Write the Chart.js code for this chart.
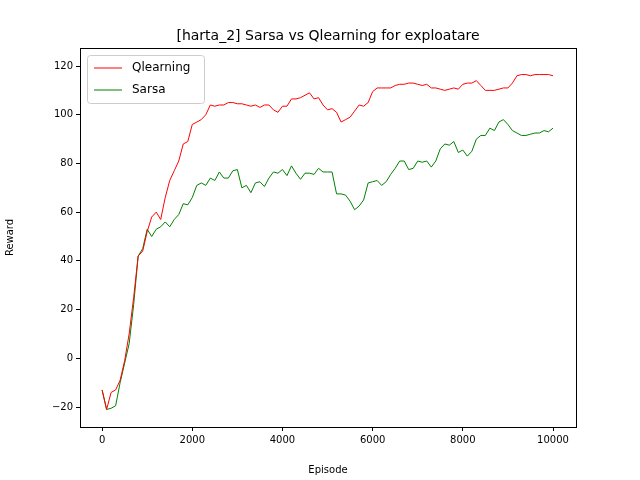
<!DOCTYPE html>
<html><head><script src="https://cdn.jsdelivr.net/npm/chart.js@4"></script>
<style>body{margin:0;background:#fff}</style></head>
<body><canvas id="c" width="640" height="480"></canvas>
<script>
const episodes = Array.from({length:101},(_,i)=>i*100);
const qlearning = [-13,-21,-14,-13,-9,-1,10,25,42,44,52,58,60,57,66,73,77,81,88,89,96,97,98,100,104,103.5,104,104,105,105,104.5,104.5,104,103.5,104,103,104,104,102,101,103.5,103.5,106.5,106.5,107,108,109,106.5,107,104,102,102.5,101,97,98,99,101.5,104,103.5,105,109.5,111,111,111,111,112,112.5,112.5,113,113,112.5,112,112.5,111,111,110.5,110,110.5,111,110.5,112.5,113,113,114,112,110,110,110,110.5,111,111,113,116,116.5,116.5,116,116.5,116.5,116.5,116.5,116];
const sarsa = [-13,-21,-20.5,-19.5,-10,-2,6,22,42,45,53,50,53,54,56,54,57,59,63.5,63,66,71,72,71,74,73,76.5,74,74,77,77.5,70,71,68,72,72.5,70.5,74,76.5,76,77.5,75,79,76,73.5,76,76,75.5,78,76.5,76.5,76.5,67.5,67.5,67,64.5,61,62.5,65,72,72.5,73,71,72.5,75.5,78,81,81,77.5,78,81,80.5,81,78.5,81,86,88,87.5,89,84.5,85.5,83,85,90,91.5,91.5,94.5,93.5,97,98,96,93.5,92.5,91.5,91.5,92,92.5,92.5,93.5,93,94.5];
const xTicks = [0,2000,4000,6000,8000,10000];
const yTicks = [-20,0,20,40,60,80,100,120];
const font = "'DejaVu Sans'";
const deco = {id:'deco', afterDraw(ch){
  const c=ch.ctx, a=ch.chartArea;
  c.save();
  c.strokeStyle='#000'; c.lineWidth=1; c.strokeRect(a.left+0.5,a.top+0.5,a.right-a.left,a.bottom-a.top);
  c.fillStyle='#000'; c.font='14px '+font; c.textAlign='center'; c.textBaseline='alphabetic';
  c.fillText('[harta_2] Sarsa vs Qlearning for exploatare',(a.left+a.right)/2,a.top-8);
  const lx=a.left+7, ly=a.top+7;
  c.fillStyle='rgba(255,255,255,0.8)'; c.strokeStyle='#ccc';
  c.beginPath(); c.roundRect(lx+0.5,ly+0.5,117,48,3); c.fill(); c.stroke();
  c.font='12px '+font; c.textAlign='left'; c.textBaseline='middle';
  ch.data.datasets.forEach((d,i)=>{
    const y=ly+13+i*22;
    c.strokeStyle=d.borderColor; c.lineWidth=1; c.beginPath(); c.moveTo(lx+7,y); c.lineTo(lx+35,y); c.stroke();
    c.fillStyle='#000'; c.fillText(d.label,lx+45,y);
  });
  c.restore();
}};
new Chart(document.getElementById('c'),{
  type:'line',
  data:{datasets:[
    {label:'Qlearning',data:episodes.map((x,i)=>({x,y:qlearning[i]})),borderColor:'#ff0000',borderWidth:1,pointRadius:0,tension:0},
    {label:'Sarsa',data:episodes.map((x,i)=>({x,y:sarsa[i]})),borderColor:'#008000',borderWidth:1,pointRadius:0,tension:0}
  ]},
  options:{responsive:false,animation:false,devicePixelRatio:1,
    layout:{padding:{top:48,right:64,left:0,bottom:0}},
    plugins:{legend:{display:false},tooltip:{enabled:false}},
    scales:{
      x:{type:'linear',min:-490,max:10510,afterFit(s){s.height=53;},
        afterBuildTicks(s){s.ticks=xTicks.map(v=>({value:v}));},
        grid:{display:true,drawOnChartArea:false,drawTicks:true,tickLength:4,color:'#000'},border:{display:false},
        ticks:{color:'#000',font:{family:font,size:10},maxRotation:0,padding:3,callback:v=>String(v)},
        title:{display:true,text:'Episode',color:'#000',font:{family:font,size:10},padding:{top:2}}},
      y:{min:-28.2,max:127.4,afterFit(s){s.width=80;},
        afterBuildTicks(s){s.ticks=yTicks.map(v=>({value:v}));},
        grid:{display:true,drawOnChartArea:false,drawTicks:true,tickLength:4,color:'#000'},border:{display:false},
        ticks:{color:'#000',font:{family:font,size:10},padding:3,callback:v=>v<0?'\u2212'+(-v):String(v)},
        title:{display:true,text:'Reward',color:'#000',font:{family:font,size:10}}}
    }}
  ,plugins:[deco]});
</script></body></html>
